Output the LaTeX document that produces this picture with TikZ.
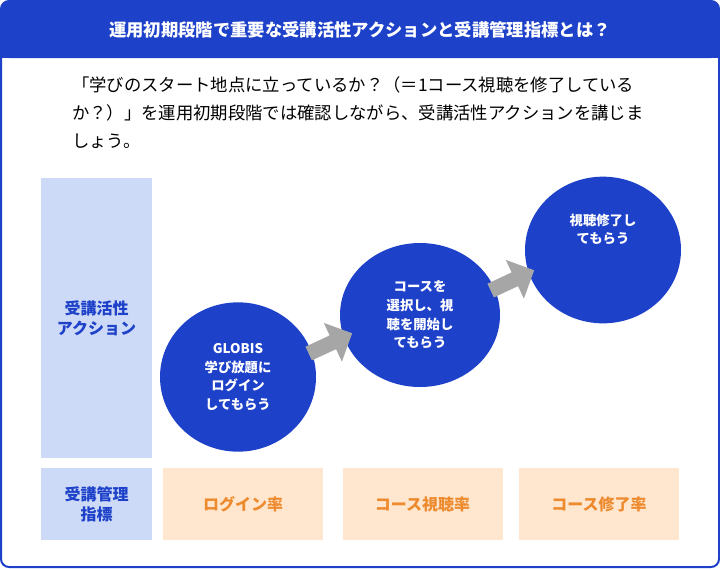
\documentclass[tikz,border=0pt]{standalone}
\usepackage{fontspec}
\setmainfont{Noto Sans CJK JP}
\usetikzlibrary{shapes.arrows, positioning}
\definecolor{mainblue}{HTML}{1D41C9}
\definecolor{paleblue}{HTML}{CCD9F7}
\definecolor{paleorange}{HTML}{FFE7CF}
\definecolor{darkorange}{HTML}{EE8A2E}
\tikzstyle{rowhead} = [rectangle, fill=paleblue, text=mainblue, font=\bfseries\fontsize{12}{15}\selectfont, align=center, inner sep=0pt]
\tikzstyle{kpi} = [rectangle, fill=paleorange, text=darkorange, font=\bfseries\fontsize{12}{15}\selectfont, minimum width=120pt, minimum height=54pt]
\tikzstyle{stage} = [ellipse, fill=mainblue, text=white, align=center, font=\bfseries\fontsize{10}{14}\selectfont, inner sep=0pt]
\tikzstyle{flow} = [single arrow, fill=gray!70, minimum height=36pt, minimum width=32pt, single arrow head extend=4pt, inner sep=2pt]
\usetikzlibrary{shapes.geometric}
\begin{document}
\begin{tikzpicture}[x=0.75pt, y=-0.75pt]
\useasboundingbox (0,0) rectangle (720,568);
\draw[mainblue, line width=1.5pt, rounded corners=6pt, fill=white] (1,1) rectangle (719,567);
\fill[mainblue, rounded corners=6pt] (1,1) rectangle (719,58);
\fill[mainblue] (1,30) rectangle (719,58);
\node (title) [text=white, font=\bfseries\fontsize{13}{16}\selectfont] at (360,30) {運用初期段階で重要な受講活性アクションと受講管理指標とは？};
\node (intro) [anchor=north west, align=left, text width=450pt, font=\fontsize{13}{21}\selectfont, inner sep=0pt] at (72,76)
  {「学びのスタート地点に立っているか？（＝1コース視聴を修了している\\か？）」を運用初期段階では確認しながら、受講活性アクションを講じま\\しょう。};
% left column
\node (action) [rowhead, minimum width=83pt, minimum height=210pt] at (96.5,318) {受講活性\\アクション};
\node (index) [rowhead, minimum width=83pt, minimum height=54pt] at (96.5,504) {受講管理\\指標};
% indicators
\node (login) [kpi] at (243,504) {ログイン率};
\node (view) [kpi] at (422.5,504) {コース視聴率};
\node (done) [kpi] at (599,504) {コース修了率};
% stages
\node (s1) [stage, minimum width=117pt, minimum height=112pt] at (238,377) {GLOBIS\\学び放題に\\ログイン\\してもらう};
\node (s2) [stage, minimum width=120pt, minimum height=108pt] at (420,315) {コースを\\選択し、視\\聴を開始し\\てもらう};
\node (s3) [stage, minimum width=117pt, minimum height=110pt] at (603,250) {視聴修了し\\てもらう\\[18pt]};
% arrows
\node (a1) [flow, rotate=25] at (327,345) {};
\node (a2) [flow, rotate=25] at (509,282) {};
\end{tikzpicture}
\end{document}
